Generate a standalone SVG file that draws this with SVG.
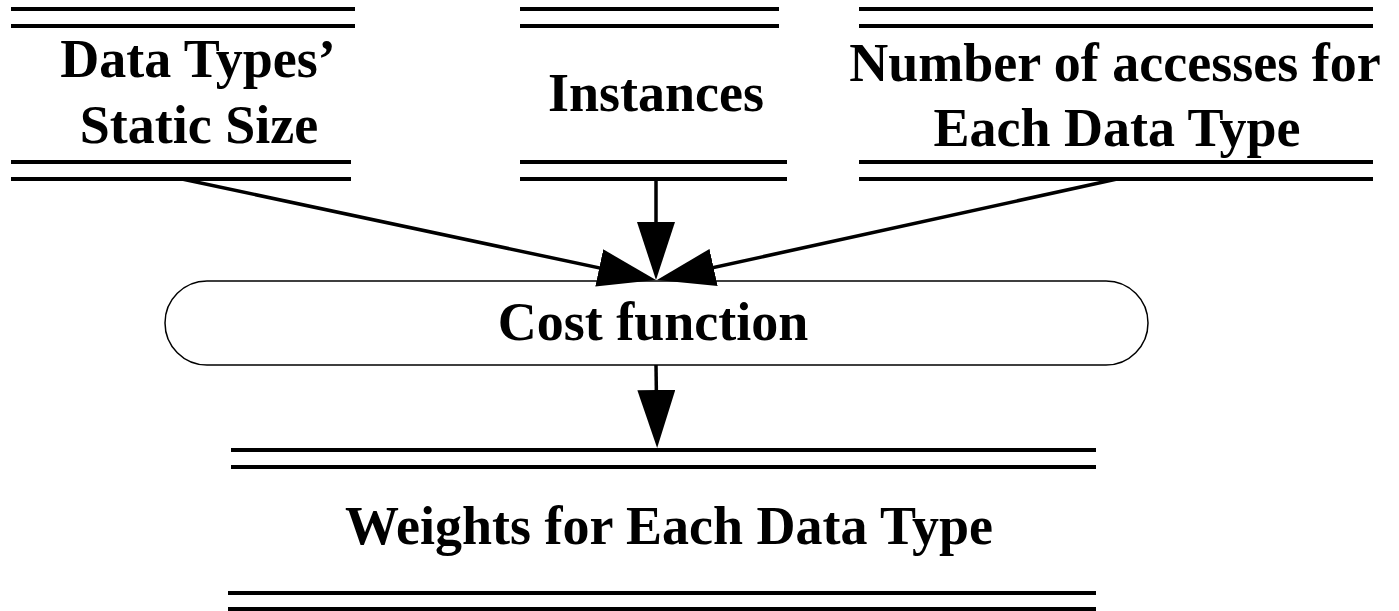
<svg xmlns="http://www.w3.org/2000/svg" width="1399" height="611" viewBox="0 0 1399 611">
<style>
.bar{stroke:#000;stroke-width:4;fill:none}
.lbl{font-family:"Liberation Serif","Times New Roman",serif;font-weight:bold;font-size:54px;fill:#000;text-anchor:middle}
.conn{stroke:#000;stroke-width:3.5;fill:none;marker-end:url(#ah)}
.proc{fill:#fff;stroke:#000;stroke-width:1.5}
</style>
<defs>
<marker id="ah" viewBox="0 0 58 38" refX="48" refY="19" markerWidth="58" markerHeight="38" markerUnits="userSpaceOnUse" orient="auto">
<path d="M0,0 L58,19 L0,38 z" fill="#000"/>
</marker>
</defs>
<rect width="1399" height="611" fill="#fff"/>
<g id="node-static-size">
<line class="bar" x1="11" y1="9" x2="355" y2="9"/>
<line class="bar" x1="11" y1="26" x2="355" y2="26"/>
<line class="bar" x1="11" y1="162" x2="351" y2="162"/>
<line class="bar" x1="11" y1="179" x2="351" y2="179"/>
<text class="lbl" x="198" y="77">Data Types’</text>
<text class="lbl" x="199" y="143">Static Size</text>
</g>
<g id="node-instances">
<line class="bar" x1="520" y1="9" x2="779" y2="9"/>
<line class="bar" x1="520" y1="26" x2="779" y2="26"/>
<line class="bar" x1="520" y1="162" x2="787" y2="162"/>
<line class="bar" x1="520" y1="179" x2="787" y2="179"/>
<text class="lbl" x="656" y="111">Instances</text>
</g>
<g id="node-accesses">
<line class="bar" x1="859" y1="9" x2="1373" y2="9"/>
<line class="bar" x1="859" y1="26" x2="1373" y2="26"/>
<line class="bar" x1="859" y1="162" x2="1373" y2="162"/>
<line class="bar" x1="859" y1="179" x2="1373" y2="179"/>
<text class="lbl" x="1115" y="81">Number of accesses for</text>
<text class="lbl" x="1117" y="146">Each Data Type</text>
</g>
<g id="node-cost">
<rect class="proc" x="165" y="281" width="983" height="84" rx="42" ry="42"/>
<text class="lbl" x="653" y="340">Cost function</text>
</g>
<g id="node-weights">
<line class="bar" x1="231" y1="450" x2="1096" y2="450"/>
<line class="bar" x1="231" y1="467" x2="1096" y2="467"/>
<line class="bar" x1="228" y1="593" x2="1096" y2="593"/>
<line class="bar" x1="228" y1="609" x2="1096" y2="609"/>
<text class="lbl" x="669" y="544">Weights for Each Data Type</text>
</g>
<g id="connectors">
<line class="conn" x1="182" y1="179" x2="646.2" y2="277.9"/>
<line class="conn" x1="656" y1="179" x2="656" y2="270"/>
<line class="conn" x1="1117" y1="179" x2="666.7" y2="277.8"/>
<line class="conn" x1="656" y1="365" x2="657" y2="438"/>
</g>
</svg>
